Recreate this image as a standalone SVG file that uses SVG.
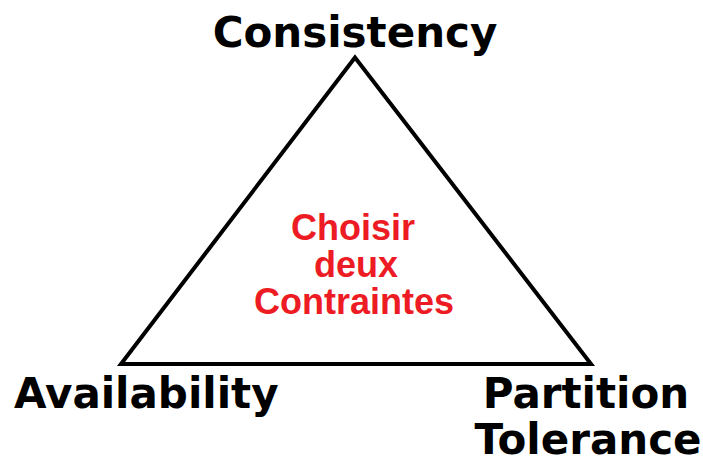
<svg xmlns="http://www.w3.org/2000/svg" width="703" height="464" viewBox="0 0 703 464">
<style>
.lbl{font-family:"DejaVu Sans",Verdana,sans-serif;font-weight:bold;font-size:42px;fill:#000}
.mid{font-family:"Liberation Sans",Arial,sans-serif;font-weight:bold;font-size:36px;fill:#ED1C24;text-anchor:middle}
</style>
<rect width="703" height="464" fill="#fff"/>
<g id="connectors">
<polygon points="355,57.5 121,364 591,364" fill="none" stroke="#000" stroke-width="4" stroke-linejoin="miter"/>
</g>
<g id="consistency"><text class="lbl" x="355" y="47" text-anchor="middle">Consistency</text></g>
<g id="availability"><text class="lbl" x="14" y="408">Availability</text></g>
<g id="partition"><text class="lbl" x="586" y="408" text-anchor="middle">Partition</text><text class="lbl" x="588" y="454" text-anchor="middle">Tolerance</text></g>
<g id="center"><text class="mid" x="353" y="240">Choisir</text><text class="mid" x="356" y="277">deux</text><text class="mid" x="354" y="314">Contraintes</text></g>
</svg>
